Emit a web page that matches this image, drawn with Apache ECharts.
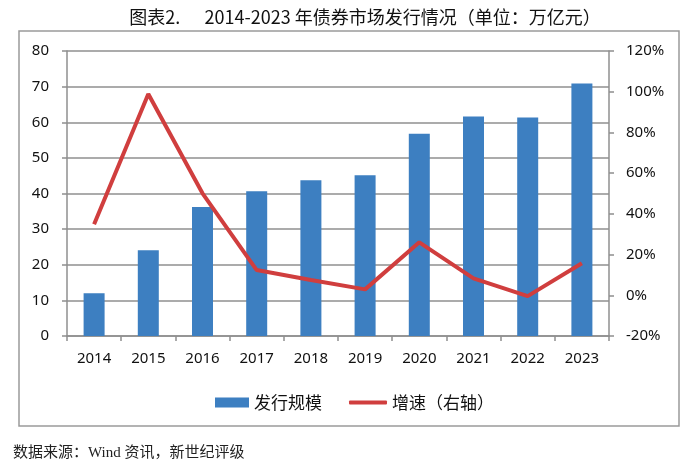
<!DOCTYPE html>
<html><head><meta charset="utf-8">
<script src="https://cdn.jsdelivr.net/npm/echarts@6/dist/echarts.min.js"></script>
<style>html,body{margin:0;padding:0;background:#fff}#c{width:700px;height:473px}</style>
</head><body><div id="c"></div>
<script>
const years = ['2014','2015','2016','2017','2018','2019','2020','2021','2022','2023'];
const issuance = [12.0, 24.1, 36.2, 40.6, 43.7, 45.1, 56.8, 61.6, 61.3, 70.9];
const growth = [34.9, 98.9, 50.1, 12.4, 7.5, 2.9, 26.0, 8.3, -0.4, 15.7];
const leftTicks = {min: 0, max: 80, interval: 10};
const rightTicks = {min: -20, max: 120, interval: 20};
const titleText = '图表2.      2014-2023 年债券市场发行情况（单位：万亿元）';
const sourceText = '数据来源：Wind 资讯，新世纪评级';
const seriesNames = ['发行规模', '增速（右轴）'];

const chart = echarts.init(document.getElementById('c'), null, {renderer: 'canvas'});
const axisGray = '#8f8f8f';
const labelFont = {fontFamily: 'Noto Sans, Liberation Sans, sans-serif', fontSize: 15, color: '#111'};
chart.setOption({
  backgroundColor: '#fff',
  animation: false,
  title: {
    text: titleText, left: 360, textAlign: 'center', top: 3,
    textStyle: {fontFamily: 'Noto Sans CJK SC', fontSize: 18, fontWeight: 'normal', color: '#111'}
  },
  graphic: [
    {type: 'rect', shape: {x: 19, y: 31, width: 660, height: 395}, style: {fill: 'none', stroke: '#9a9a9a', lineWidth: 1.5}, z: -1},
    {type: 'text', left: 13, top: 446, style: {text: sourceText, font: '15px "Liberation Serif", "Noto Sans CJK SC"', fill: '#222'}}
  ],
  legend: [
    {data: [seriesNames[0]], left: 210, top: 389, itemWidth: 34, itemHeight: 10, itemGap: 6, icon: 'rect',
     textStyle: {fontFamily: 'Noto Sans CJK SC', fontSize: 17, color: '#111'}},
    {data: [seriesNames[1]], left: 344, top: 389, itemWidth: 38, itemHeight: 4, icon: 'roundRect',
     textStyle: {fontFamily: 'Noto Sans CJK SC', fontSize: 17, color: '#111'}}
  ],
  grid: {left: 67, right: 91, top: 51, bottom: 137, containLabel: false},
  xAxis: {
    type: 'category', data: years, boundaryGap: true,
    axisLine: {lineStyle: {color: axisGray, width: 1.5}},
    axisTick: {show: true, alignWithLabel: false, length: 5, lineStyle: {color: axisGray, width: 1.5}},
    axisLabel: Object.assign({margin: 15}, labelFont)
  },
  yAxis: [
    {type: 'value', min: leftTicks.min, max: leftTicks.max, interval: leftTicks.interval,
     axisLine: {show: true, lineStyle: {color: axisGray, width: 1.5}},
     axisTick: {show: true, length: 5, lineStyle: {color: axisGray, width: 1.5}},
     splitLine: {show: true, lineStyle: {color: axisGray, width: 1.5}},
     axisLabel: Object.assign({margin: 18}, labelFont)},
    {type: 'value', min: rightTicks.min, max: rightTicks.max, interval: rightTicks.interval, position: 'right',
     axisLine: {show: true, lineStyle: {color: axisGray, width: 1.5}},
     axisTick: {show: true, length: 5, lineStyle: {color: axisGray, width: 1.5}},
     splitLine: {show: false},
     axisLabel: Object.assign({margin: 17, formatter: '{value}%'}, labelFont)}
  ],
  series: [
    {name: seriesNames[0], type: 'bar', data: issuance, barWidth: 21, yAxisIndex: 0,
     itemStyle: {color: '#3D7FC1'}},
    {name: seriesNames[1], type: 'line', data: growth, yAxisIndex: 1, showSymbol: false, symbol: 'none',
     lineStyle: {color: '#D03E3E', width: 4}, itemStyle: {color: '#D03E3E'}, z: 5}
  ]
});
</script></body></html>
